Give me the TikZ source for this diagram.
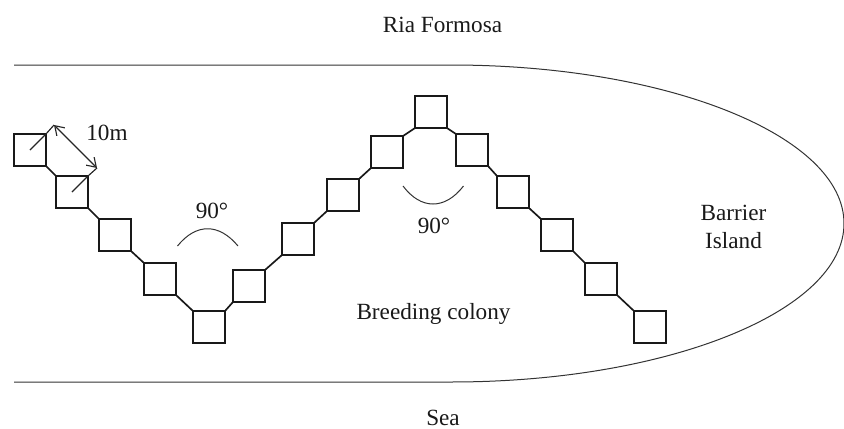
\documentclass[tikz,border=0pt]{standalone}
\usepackage{fontspec}
\setmainfont{Liberation Serif}
\usetikzlibrary{arrows.meta}
\tikzset{
  plot/.style={draw=black!90,line width=1.25pt,minimum size=24pt,inner sep=0pt,outer sep=0pt},
  link/.style={draw=black!90,line width=1.25pt},
  thin outline/.style={draw=black!80,line width=0.75pt},
  leader/.style={draw=black!85,line width=0.85pt,line join=round},
  dim/.style={draw=black!85,line width=0.85pt,{Straight Barb[length=6.5pt,width=8.5pt]}-{Straight Barb[length=6.5pt,width=8.5pt]}},
  lab/.style={font=\fontsize{17.4pt}{21.5pt}\selectfont,inner sep=0pt,text=black!90},
}
\begin{document}
\begin{tikzpicture}[x=0.75pt,y=-0.75pt]
\useasboundingbox (0,0) rectangle (844,429);
\foreach \n/\x/\y in {1/30/150,2/72/192,3/115/235,4/160/279,5/209/327,6/249/286,7/298/239,8/343/195,9/387/152,10/431/112,11/472/150,12/513/192,13/557/235,14/601/279,15/650/327}
  \node[plot] (s\n) at (\x,\y) {};
\draw[link] (s1.south east) -- (s2.north west);
\draw[link] (s2.south east) -- (s3.north west);
\draw[link] (s3.south east) -- (s4.north west);
\draw[link] (s4.south east) -- (s5.north west);
\draw[link] (s5.north east) -- (s6.south west);
\draw[link] (s6.north east) -- (s7.south west);
\draw[link] (s7.north east) -- (s8.south west);
\draw[link] (s8.north east) -- (s9.south west);
\draw[link] (s9.north east) -- (s10.south west);
\draw[link] (s10.south east) -- (s11.north west);
\draw[link] (s11.south east) -- (s12.north west);
\draw[link] (s12.south east) -- (s13.north west);
\draw[link] (s13.south east) -- (s14.north west);
\draw[link] (s14.south east) -- (s15.north west);
% barrier island outline
\draw[thin outline] (14,65) -- (451,65) arc[start angle=90,end angle=-90,x radius=294.75pt,y radius=118.875pt] -- (14,382);
% ten metre dimension
\coordinate (a1) at (54,125);
\coordinate (a2) at (97,168);
\draw[dim] (a1) -- (a2);
\draw[leader] (s1.center) -- (s1.north east) -- (a1);
\draw[leader] (s2.center) -- (s2.north east) -- (a2);
% angle arcs
\draw[thin outline] (177.5,246) .. controls (196,223) and (219,223) .. (238,246);
\draw[thin outline] (403,186) .. controls (421,210) and (445,210) .. (463.5,186);
% labels
\node[lab] (t1) at (442.5,25) {Ria Formosa};
\node[lab] (t2) at (107,133) {10m};
\node[lab] (t3) at (212,211) {90°};
\node[lab] (t4) at (434,226) {90°};
\node[lab] (t5) at (433.5,314) {Breeding colony};
\node[lab,align=center] (t6) at (733.5,227) {Barrier\\Island};
\node[lab] (t7) at (443,418) {Sea};
\end{tikzpicture}
\end{document}
